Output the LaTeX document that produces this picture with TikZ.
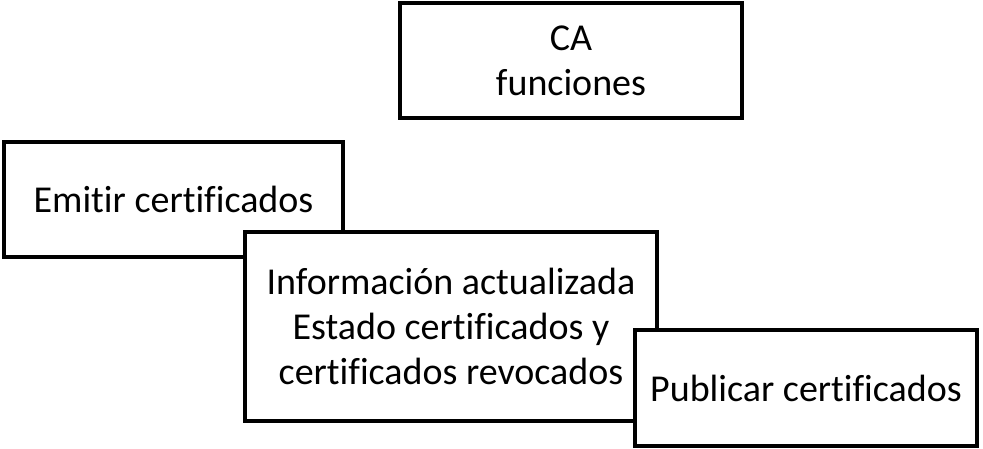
\documentclass[tikz,border=0pt]{standalone}
\usepackage{fontspec}
\setmainfont[Ligatures=NoCommon]{Carlito}
\usetikzlibrary{positioning}

\tikzset{
  funcbox/.style={draw=black,fill=white,line width=4pt,align=center,
    inner sep=0pt,font=\fontsize{38}{45}\selectfont}
}

\begin{document}
\begin{tikzpicture}[x=1pt,y=-1pt]
  \useasboundingbox (0,0) rectangle (983,449);

  \node[funcbox,minimum width=342pt,minimum height=115pt] (ca) at (571,60.5) {CA\\funciones};

  \node[funcbox,minimum width=339pt,minimum height=115pt] (emitir) at (173.5,199.5) {Emitir certificados};

  \node[funcbox,minimum width=412pt,minimum height=189pt] (info) at (451,326.5)
    {Información actualizada\\Estado certificados y\\certificados revocados};

  \node[funcbox,minimum width=342pt,minimum height=116pt] (publicar) at (806,388) {Publicar certificados};
\end{tikzpicture}
\end{document}
